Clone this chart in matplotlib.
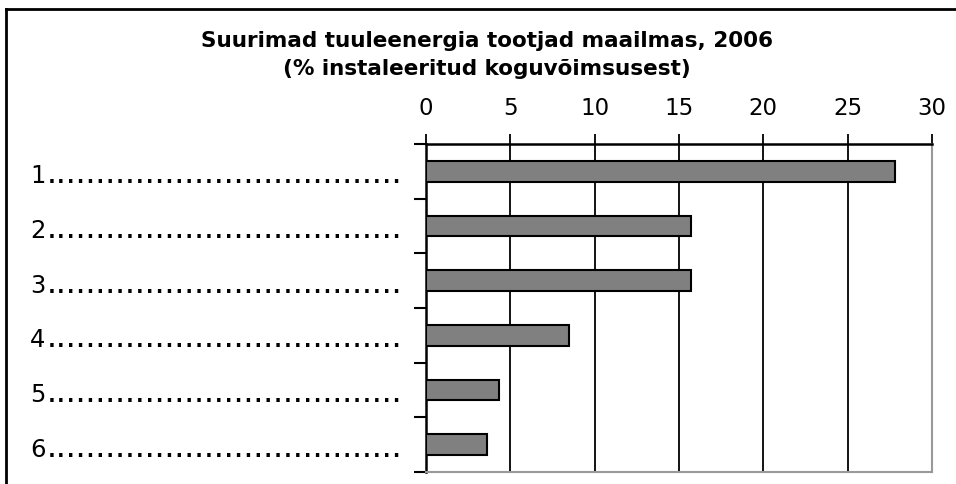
import matplotlib
matplotlib.use('Agg')
import matplotlib.pyplot as plt
import matplotlib.transforms as mtransforms
from matplotlib.lines import Line2D

# data
ranks = ['1', '2', '3', '4', '5', '6']
shares = [27.8, 15.7, 15.7, 8.5, 4.3, 3.6]
xticks = [0, 5, 10, 15, 20, 25, 30]
title1 = 'Suurimad tuuleenergia tootjad maailmas, 2006'
title2 = '(% instaleeritud koguvõimsusest)'

# reference is stretched Arial; DejaVu Sans is wider and matches better
plt.rcParams['font.family'] = ['DejaVu Sans']

W, H = 956, 485
fig = plt.figure(figsize=(W / 100, H / 100), dpi=100)
ax = fig.add_axes([426 / W, 1 - 473 / H, (932 - 426) / W, (473 - 145) / H])

ypos = list(range(len(ranks)))
ax.barh(ypos, shares, height=0.38, color='#808080', edgecolor='black',
        linewidth=1.5, zorder=3)

ax.set_xlim(0, 30)
ax.set_ylim(len(ranks) - 0.5, -0.5)
ax.set_xticks(xticks)
ax.xaxis.tick_top()
ax.tick_params(axis='x', direction='out', length=7, width=1.3, pad=11,
               labelsize=16.5)
ax.grid(axis='x', color='black', linewidth=1.3, zorder=1)

# category boundary ticks on the left spine
ax.set_yticks([i - 0.5 for i in range(len(ranks) + 1)])
ax.set_yticklabels([])
ax.tick_params(axis='y', direction='out', length=9, width=1.5)

for side in ('left', 'top'):
    ax.spines[side].set_linewidth(1.8)
    ax.spines[side].set_color('black')
for side in ('right', 'bottom'):
    ax.spines[side].set_linewidth(1.5)
    ax.spines[side].set_color('#999999')

# row labels with leader dots
trans = mtransforms.blended_transform_factory(fig.transFigure, ax.transData)
for i, r in enumerate(ranks):
    ax.text(30 / W, i + 0.2, r, transform=trans, fontsize=17.5,
            va='baseline', ha='left')
    ax.text(46.5 / W, i + 0.2, '.' * 36, transform=trans, fontsize=25.3,
            family='Liberation Sans', va='baseline', ha='left')

fig.text(487 / W, 1 - 47 / H, title1, ha='center', va='baseline',
         fontsize=15.5, fontweight='bold')
fig.text(487 / W, 1 - 75 / H, title2, ha='center', va='baseline',
         fontsize=15.5, fontweight='bold')

# outer frame
fig.add_artist(Line2D([6 / W, 6 / W], [0, 1 - 10 / H], color='black',
                      linewidth=2, transform=fig.transFigure))
fig.add_artist(Line2D([6 / W, 1], [1 - 10 / H, 1 - 10 / H], color='black',
                      linewidth=2, transform=fig.transFigure))

fig.savefig('out.png', dpi=100)
